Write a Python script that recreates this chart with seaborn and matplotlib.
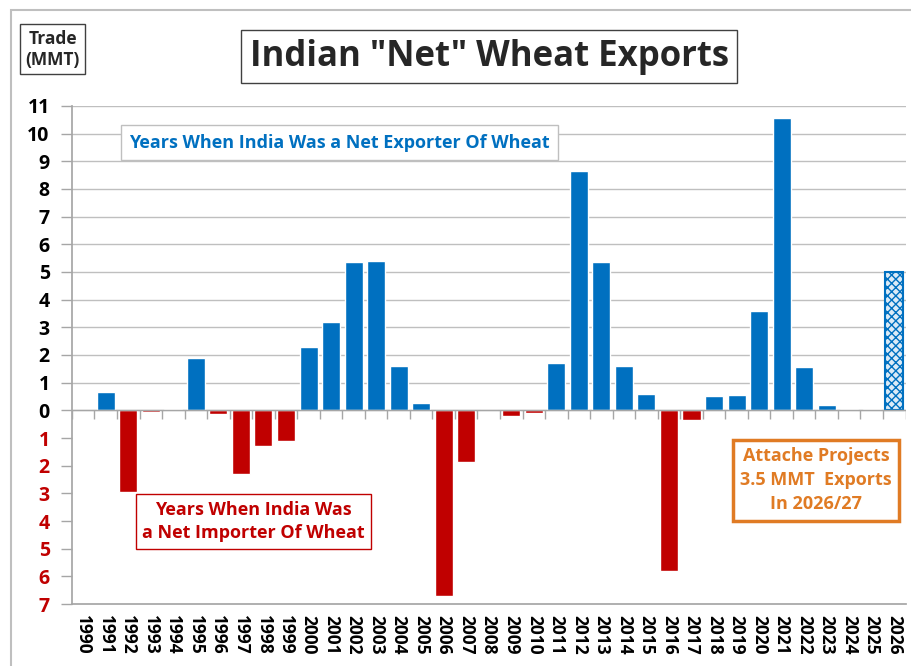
import numpy as np
import pandas as pd
import matplotlib
matplotlib.use('Agg')
import matplotlib.pyplot as plt
import seaborn as sns

# =============================================================================
# Data
# =============================================================================
years = [str(y) for y in range(1990, 2027)]
net_exports = [0.0, 0.65, -2.95, -0.05, 0.05, 1.9, -0.15, -2.3, -1.3, -1.1,
               2.3, 3.2, 5.35, 5.4, 1.6, 0.25, -6.7, -1.85, 0.0, -0.2,
               -0.1, 1.7, 8.65, 5.35, 1.6, 0.6, -5.8, -0.35, 0.5, 0.55,
               3.6, 10.55, 1.55, 0.2, 0.03, 0.03, 5.0]
pos_ticks = list(range(0, 12))
neg_ticks = list(range(-7, 0))

blue = '#0070C0'
red = '#C00000'
orange = '#E07B24'

df = pd.DataFrame({'year': years, 'net': net_exports})
df['side'] = np.where(df['net'] >= 0, 'export', 'import')

sns.set_theme(style='white')
plt.rcParams['font.family'] = ['Open Sans', 'DejaVu Sans']

fig = plt.figure(figsize=(9.11, 6.66), dpi=100)
ax = fig.add_axes([0.079, 0.093, 0.915, 0.748])

sns.barplot(data=df, x='year', y='net', hue='side',
            palette={'export': blue, 'import': red},
            width=0.8, dodge=False, legend=False, saturation=1, ax=ax)

# projected 2026 bar -> checkered look
for p in ax.patches:
    if abs(p.get_x() + p.get_width() / 2 - (len(years) - 1)) < 0.01 and p.get_height() > 4:
        p.set_facecolor('#DCEBF7')
        p.set_edgecolor(blue)
        p.set_hatch('xxxx')
        p.set_linewidth(1.5)

ax.set_ylim(-7, 11)
ax.set_xlim(-0.5, len(years) - 0.5)
ax.yaxis.grid(True, color='#BFBFBF', linewidth=1)
ax.set_axisbelow(True)

# positive labels on the normal axis (black), negative ones on a twin axis (red)
ax.set_yticks(pos_ticks)
ax.set_yticklabels([str(t) for t in pos_ticks], fontsize=14, fontweight='bold')
ax.tick_params(axis='y', length=8, color='#A6A6A6', width=1, left=True, pad=8,
               labelcolor='black')

ax2 = ax.twinx()
ax2.set_ylim(-7, 11)
ax2.yaxis.set_label_position('left')
ax2.yaxis.tick_left()
ax2.set_yticks(neg_ticks)
ax2.set_yticklabels([str(-t) for t in neg_ticks], fontsize=14, fontweight='bold')
ax2.tick_params(axis='y', length=8, color='#A6A6A6', width=1, pad=8, labelcolor=red,
                left=True, right=False, labelleft=True, labelright=False)
for s in ax2.spines.values():
    s.set_visible(False)
ax2.grid(False)

ax.set_xticks(range(len(years)))
ax.set_xticklabels(years, rotation=-90, fontsize=12.5, fontweight='bold', color='black')
ax.tick_params(axis='x', length=0, pad=8)
ax.set_xlabel('')
ax.set_ylabel('')

for s in ['top', 'right']:
    ax.spines[s].set_visible(False)
ax.spines['left'].set_color('#A6A6A6')
ax.spines['bottom'].set_color('#A6A6A6')
ax.axhline(0, color='#A6A6A6', linewidth=1, zorder=1)
ax.vlines(np.arange(-0.5, len(years), 1), -0.3, 0, color='#A6A6A6', linewidth=1, zorder=1)

# boxes and notes
fig.text(0.537, 0.915, 'Indian "Net" Wheat Exports', fontsize=25, fontweight='bold',
         ha='center', va='center',
         bbox=dict(boxstyle='square,pad=0.25', facecolor='white', edgecolor='#404040', linewidth=1))
fig.text(0.058, 0.926, 'Trade\n(MMT)', fontsize=12.5, fontweight='bold', ha='center', va='center',
         linespacing=1.25,
         bbox=dict(boxstyle='square,pad=0.3', facecolor='white', edgecolor='#404040', linewidth=1))
fig.text(0.373, 0.786, 'Years When India Was a Net Exporter Of Wheat', fontsize=13,
         fontweight='bold', color=blue, ha='center', va='center',
         bbox=dict(boxstyle='square,pad=0.45', facecolor='white', edgecolor='#BFBFBF', linewidth=1))
fig.text(0.278, 0.217, 'Years When India Was\na Net Importer Of Wheat', fontsize=13,
         fontweight='bold', color=red, ha='center', va='center', linespacing=1.4,
         bbox=dict(boxstyle='square,pad=0.35', facecolor='white', edgecolor=red, linewidth=1))
fig.text(0.896, 0.279, 'Attache Projects\n3.5 MMT  Exports\nIn 2026/27', fontsize=13,
         fontweight='bold', color=orange, ha='center', va='center', linespacing=1.45,
         bbox=dict(boxstyle='square,pad=0.4', facecolor='white', edgecolor=orange, linewidth=2.5))

# outer frame
fig.patches.append(plt.Rectangle((0.012, -0.01), 1.0, 0.995, transform=fig.transFigure,
                                 fill=False, edgecolor='#BFBFBF', linewidth=1.5))

plt.savefig('out.png', dpi=100)
